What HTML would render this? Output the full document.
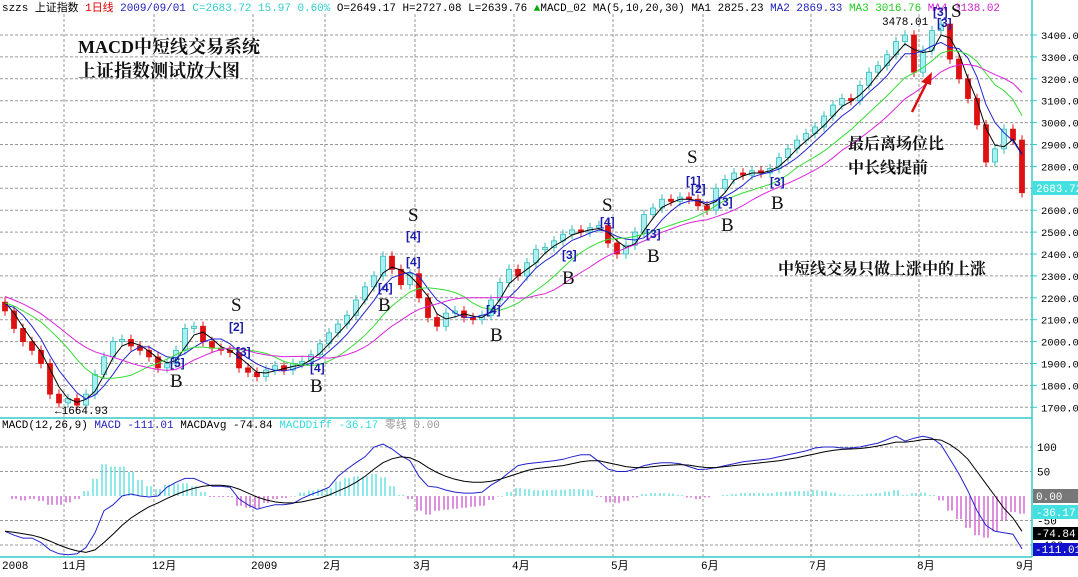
<!DOCTYPE html>
<html><head><meta charset="utf-8">
<style>
html,body{margin:0;padding:0;background:#fff;}
body{width:1078px;height:572px;overflow:hidden;font-family:"Liberation Sans","Noto Sans CJK SC",sans-serif;}
</style></head><body>
<svg id="c" width="1078" height="572" viewBox="0 0 1078 572" xmlns="http://www.w3.org/2000/svg" font-family="Liberation Mono, Noto Sans CJK SC, monospace">
<g id="grid"></g><g id="marks"></g><g id="ann"></g>
</svg>
<script>
const history=[2320,2300,2270,2280,2250,2220,2200,2230,2190,2170,2140,2120,2180,2210,2190];
const closes=[2140,2060,2000,1960,1900,1760,1720,1740,1710,1760,1850,1930,2000,2010,1980,1960,1930,1880,1900,1960,2060,2070,2000,1970,1960,1950,1880,1860,1840,1870,1890,1870,1900,1910,1940,1990,2040,2080,2120,2190,2250,2300,2390,2330,2260,2310,2200,2110,2070,2130,2140,2110,2100,2120,2190,2270,2330,2300,2360,2420,2430,2460,2490,2510,2500,2520,2530,2450,2400,2440,2500,2580,2610,2650,2640,2660,2650,2620,2600,2700,2740,2770,2760,2780,2770,2790,2840,2880,2920,2950,2980,3030,3080,3110,3100,3170,3230,3260,3310,3370,3400,3230,3330,3420,3450,3290,3200,3110,2990,2820,2880,2970,2920,2680];
const macdDif=[-72,-80,-86,-86,-95,-110,-118,-120,-118,-105,-75,-30,-18,0,4,0,-2,0,18,28,36,36,28,20,20,18,-6,-18,-27,-22,-18,-18,-15,-5,3,10,18,40,55,68,80,100,106,96,82,72,40,20,18,12,8,6,6,8,22,33,48,62,66,68,70,72,75,80,84,84,70,55,50,50,55,62,66,68,68,66,60,54,55,58,62,66,70,72,74,76,80,84,88,92,98,100,100,98,98,100,104,108,115,122,112,118,122,118,105,75,45,10,-30,-60,-72,-75,-78,-108];
const macdDea=[-72,-74,-77,-80,-85,-92,-100,-107,-112,-115,-110,-95,-78,-60,-45,-33,-22,-14,-5,3,10,16,20,22,22,20,14,6,-2,-8,-12,-14,-14,-12,-8,-4,2,10,18,28,40,55,68,76,80,78,70,58,48,40,34,30,28,28,30,34,40,46,52,56,58,60,62,66,70,72,72,68,64,60,58,58,60,62,63,64,63,60,58,58,60,62,64,66,68,70,72,75,78,82,86,90,93,95,96,97,99,102,106,110,110,112,115,116,114,105,92,75,50,25,0,-25,-45,-72];
const priceTicks=[1700,1800,1900,2000,2100,2200,2300,2400,2500,2600,2700,2800,2900,3000,3100,3200,3300,3400];
const macdTicks=[100,50,-50,-100];
const monthLabels=["2008","11月","12月","2009","2月","3月","4月","5月","6月","7月","8月","9月"];
const monthBars=[0,7,17,28,36,46,57,68,78,90,102,113];

const NS="http://www.w3.org/2000/svg";
const X=i=>5+9*i;
const Y=p=>35+(3400-p)*0.219;
const YM=v=>496-v*0.49;
function mk(par,tag,at,txt){const e=document.createElementNS(NS,tag);for(const k in at)e.setAttribute(k,at[k]);if(txt!==undefined)e.textContent=txt;document.getElementById(par).appendChild(e);return e;}

priceTicks.forEach(p=>{
 const l=mk('grid','line',{x1:0,x2:1032,y1:Y(p),y2:Y(p),stroke:'#999','stroke-dasharray':'3,2','stroke-width':1});
 
 
 const t=mk('grid','text',{x:1041,y:Y(p)+4,'font-size':10.5,fill:'#000'},p.toFixed(2));
 
 
 mk('grid','line',{x1:1032,x2:1037,y1:Y(p),y2:Y(p),stroke:'#3cc'});
});
macdTicks.forEach(v=>{
 const l=mk('grid','line',{x1:0,x2:1032,y1:YM(v),y2:YM(v),stroke:'#999','stroke-dasharray':'3,2'});
 
 
 const t=mk('grid','text',{x:1037,y:YM(v)+4,'font-size':11,fill:'#000'},String(v));
 
 
});
monthBars.forEach((b,k)=>{
 const x=k==0?3:X(b)-4;
 if(k>0&&k<11){const l=mk('grid','line',{x1:x,x2:x,y1:14,y2:557,stroke:'#999','stroke-dasharray':'3,2'});
 
 }
 const t=mk('grid','text',{x:k==0?2:x-2,y:569,'font-size':11,fill:'#000'},monthLabels[k]);
 
 
});
mk('grid','line',{x1:0,x2:1032,y1:418,y2:418,stroke:'#3cc','stroke-width':1.5});
mk('grid','line',{x1:0,x2:1032,y1:557,y2:557,stroke:'#3cc','stroke-width':1.5});
mk('grid','line',{x1:1032,x2:1032,y1:0,y2:557,stroke:'#3cc','stroke-width':1.5});

closes.forEach((c,i)=>{
 const o=i==0?c+40:closes[i-1];
 const hi=Math.max(o,c)+22,lo=Math.min(o,c)-22;
 const up=c>=o;const col=up?'#33bbbb':'#dd1111';
 const w=mk('marks','line',{x1:X(i),x2:X(i),y1:Y(hi),y2:Y(lo),stroke:col});
 
 
 const r=mk('marks','rect',{x:X(i)-2.5,y:Y(Math.max(o,c)),width:5,height:Math.max(1,Math.abs(Y(o)-Y(c))),fill:up?'#aaf0f0':'#dd1111',stroke:col,'stroke-width':0.8});
 
 
});
const all=history.concat(closes),H=history.length;
[[3,'#000'],[5,'#2222cc'],[10,'#33dd33'],[15,'#dd22dd']].forEach(([n,col],k)=>{
 let d='';closes.forEach((c,i)=>{const j=i+H;const s=all.slice(Math.max(0,j-n+1),j+1);const m=s.reduce((a,b)=>a+b,0)/s.length;d+=(i?'L':'M')+X(i)+','+Y(m).toFixed(1);});
 const p=mk('marks','path',{d,fill:'none',stroke:col,'stroke-width':1});
 
 
});
macdDif.forEach((v,i)=>{
 const h=v-macdDea[i];[-2,2].forEach(dx=>{
 const b=mk('marks','line',{x1:X(i)+dx,x2:X(i)+dx,y1:YM(0),y2:YM(h),stroke:h>=0?'#55dddd':'#cc55cc','stroke-width':1.3});
 
 });
});
[[macdDif,'#2222cc','macd-dif-line'],[macdDea,'#000','macd-signal-line']].forEach(([arr,col,nm])=>{
 let d='';arr.forEach((v,i)=>{d+=(i?'L':'M')+X(i)+','+YM(v).toFixed(1);});
 const p=mk('marks','path',{d,fill:'none',stroke:col,'stroke-width':1});
 
 
});
</script>
<svg style="position:absolute;left:0;top:0" width="1078" height="572">
<rect x="1033" y="181" width="45" height="14" fill="#44e0e0"/>
<text x="1036" y="192" font-size="11" fill="#fff" font-family="Liberation Mono">2683.72</text>
<rect x="1033" y="489" width="45" height="14" fill="#777"/><text x="1036" y="500" font-size="11" fill="#fff" font-family="Liberation Mono">0.00</text>
<rect x="1033" y="505" width="45" height="14" fill="#44e0e0"/><text x="1036" y="516" font-size="11" fill="#fff" font-family="Liberation Mono">-36.17</text>
<rect x="1033" y="527" width="45" height="13" fill="#000"/><text x="1036" y="537" font-size="11" fill="#fff" font-family="Liberation Mono">-74.84</text>
<rect x="1033" y="543" width="45" height="13" fill="#1111cc"/><text x="1035" y="553" font-size="11" fill="#fff" font-family="Liberation Mono">-111.01</text>
<g font-size="11" font-family="Liberation Mono,Noto Sans CJK SC,monospace">
<text x="2" y="11" textLength="998" lengthAdjust="spacingAndGlyphs">szzs 上证指数 <tspan fill="#d00">1日线</tspan>  <tspan fill="#2222bb">2009/09/01</tspan> <tspan fill="#33cccc">C=2683.72  15.97  0.60%</tspan>  O=2649.17  H=2727.08  L=2639.76  <tspan fill="#0a0">▲</tspan>MACD_02 MA(5,10,20,30)  MA1 2825.23  <tspan fill="#2222bb">MA2 2869.33</tspan>  <tspan fill="#22cc22">MA3 3016.76</tspan>  <tspan fill="#cc22cc">MA4 3138.02</tspan></text>
<text x="2" y="428">MACD(12,26,9)  <tspan fill="#2222bb">MACD -111.01</tspan>  MACDAvg -74.84  <tspan fill="#33dddd">MACDDiff -36.17</tspan>  <tspan fill="#999">零线 0.00</tspan></text>
</g>
<g font-family="Liberation Serif,Noto Serif CJK SC,serif" font-weight="bold" font-size="18" fill="#111">
<text x="78" y="53">MACD中短线交易系统</text><text x="78" y="77">上证指数测试放大图</text>
<text x="848" y="149" font-size="16">最后离场位比</text><text x="848" y="173" font-size="16">中长线提前</text>
<text x="778" y="274" font-size="16">中短线交易只做上涨中的上涨</text>
</g>
<line x1="912" y1="112" x2="928" y2="80" stroke="#d11" stroke-width="2.5"/><polygon points="932,72 921,82 931,85" fill="#d11"/>
<g font-family="Liberation Serif,serif" font-size="19" fill="#111">
<text x="231" y="311">S</text><text x="170" y="387">B</text><text x="310" y="392">B</text><text x="408" y="221">S</text><text x="378" y="311">B</text><text x="490" y="341">B</text><text x="602" y="211">S</text><text x="562" y="284">B</text><text x="647" y="262">B</text><text x="687" y="163">S</text><text x="721" y="231">B</text><text x="771" y="209">B</text><text x="951" y="17">S</text>
</g>
<g font-family="Liberation Sans,sans-serif" font-size="12" font-weight="bold" fill="#1a1aaa">
<text x="229" y="331">[2]</text><text x="170" y="367">[5]</text><text x="236" y="356">[3]</text><text x="310" y="372">[4]</text><text x="406" y="240">[4]</text><text x="406" y="266">[4]</text><text x="378" y="292">[4]</text><text x="486" y="314">[4]</text><text x="600" y="226">[4]</text><text x="562" y="259">[3]</text><text x="646" y="238">[3]</text><text x="686" y="185">[1]</text><text x="691" y="193">[2]</text><text x="718" y="206">[3]</text><text x="770" y="186">[3]</text><text x="933" y="16">[3]</text><text x="937" y="27">[3]</text>
</g>
<text x="882" y="25" font-size="11" font-family="Liberation Mono">3478.01</text>
<text x="55" y="414" font-size="11" font-family="Liberation Mono">←1664.93</text>
</svg>
</body></html>
